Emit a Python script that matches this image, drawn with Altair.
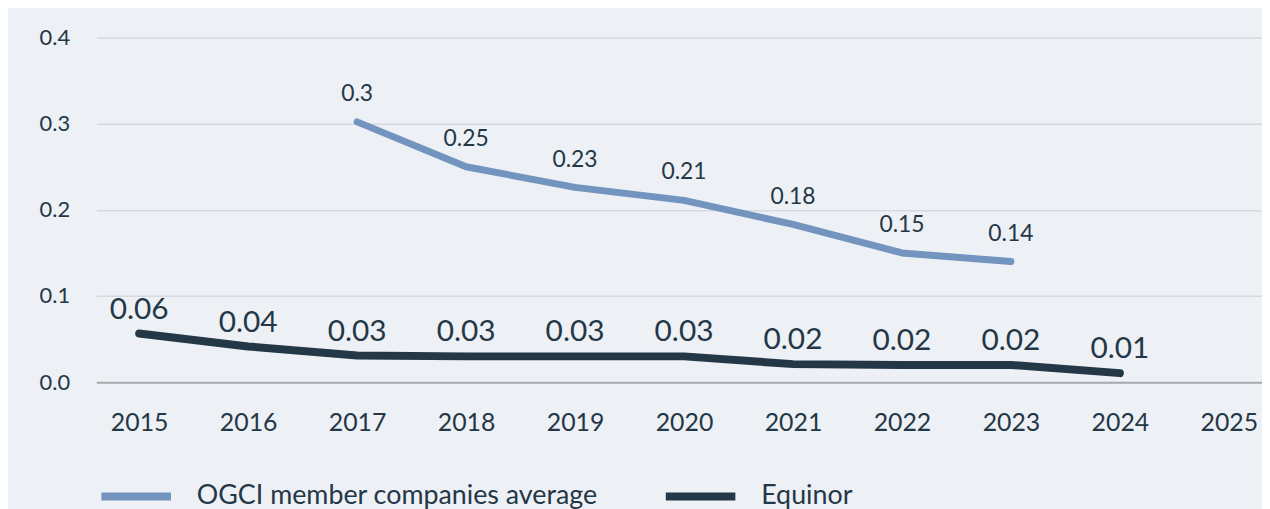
import altair as alt
import pandas as pd

years = [2015, 2016, 2017, 2018, 2019, 2020, 2021, 2022, 2023, 2024]
ogci_years = [2017, 2018, 2019, 2020, 2021, 2022, 2023]
ogci_values = [0.302, 0.250, 0.226, 0.211, 0.183, 0.150, 0.140]
ogci_labels = ["0.3", "0.25", "0.23", "0.21", "0.18", "0.15", "0.14"]
equinor_values = [0.0565, 0.0415, 0.031, 0.030, 0.030, 0.030, 0.021, 0.020, 0.020, 0.0105]
equinor_labels = ["0.06", "0.04", "0.03", "0.03", "0.03", "0.03", "0.02", "0.02", "0.02", "0.01"]
x_ticks = [2015, 2016, 2017, 2018, 2019, 2020, 2021, 2022, 2023, 2024, 2025]
y_ticks = [0.0, 0.1, 0.2, 0.3, 0.4]
series_names = ["OGCI member companies average", "Equinor"]
series_colors = ["#7294be", "#243746"]

ogci = pd.DataFrame({"year": ogci_years, "value": ogci_values, "label": ogci_labels,
                     "series": series_names[0]})
equ = pd.DataFrame({"year": years, "value": equinor_values, "label": equinor_labels,
                    "series": series_names[1]})
df = pd.concat([ogci, equ], ignore_index=True)

FONT = "Lato"
TEXT = "#243746"

x = alt.X("year:Q",
          scale=alt.Scale(domain=[2014.608, 2025.304], nice=False, zero=False),
          axis=alt.Axis(values=x_ticks, format="d", title=None, grid=False, ticks=False,
                        domain=True, domainColor="#a8abaf", domainWidth=2,
                        labelFontSize=25, labelColor=TEXT, labelFont=FONT, labelPadding=29,
                        labelFlush=False, labelOverlap=False))
y = alt.Y("value:Q",
          scale=alt.Scale(domain=[0, 0.4], nice=False),
          axis=alt.Axis(values=y_ticks, format=".1f", title=None, ticks=False, domain=False,
                        gridColor="#d6d9de", gridWidth=1.5,
                        labelFontSize=22, labelColor=TEXT, labelFont=FONT, labelPadding=27))

color = alt.Color("series:N",
                  scale=alt.Scale(domain=series_names, range=series_colors),
                  legend=alt.Legend(title=None, orient="none", direction="horizontal",
                                    legendX=1, legendY=423, symbolType="stroke",
                                    symbolSize=4900, symbolStrokeWidth=8,
                                    labelFontSize=27, labelFont=FONT, labelColor=TEXT,
                                    labelOffset=22, columnPadding=52, columns=2,
                                    labelLimit=600))

base = alt.Chart(df)

lines = base.mark_line(strokeCap="round", strokeJoin="round").encode(
    x=x, y=y, color=color,
    strokeWidth=alt.condition(alt.datum.series == "Equinor", alt.value(8), alt.value(7)),
    detail="series:N",
)

ogci_text = alt.Chart(ogci).mark_text(font=FONT, fontSize=23, color=TEXT, dy=-28,
                                      baseline="middle").encode(
    x=alt.X("year:Q"), y=alt.Y("value:Q"), text="label:N")
equ_text = alt.Chart(equ).mark_text(font=FONT, fontSize=30, color=TEXT, dy=-24,
                                    baseline="middle").encode(
    x=alt.X("year:Q"), y=alt.Y("value:Q"), text="label:N")

chart = alt.layer(lines, ogci_text, equ_text).properties(
    width=1173, height=347,
    background="#edf0f5",
    padding={"left": 89, "top": 28, "right": 0, "bottom": 126},
    autosize=alt.AutoSizeParams(type="none"),
).configure_view(stroke=None).configure_axis(labelFont=FONT)

chart.save("out.html", embed_options={"renderer": "svg", "actions": False})
